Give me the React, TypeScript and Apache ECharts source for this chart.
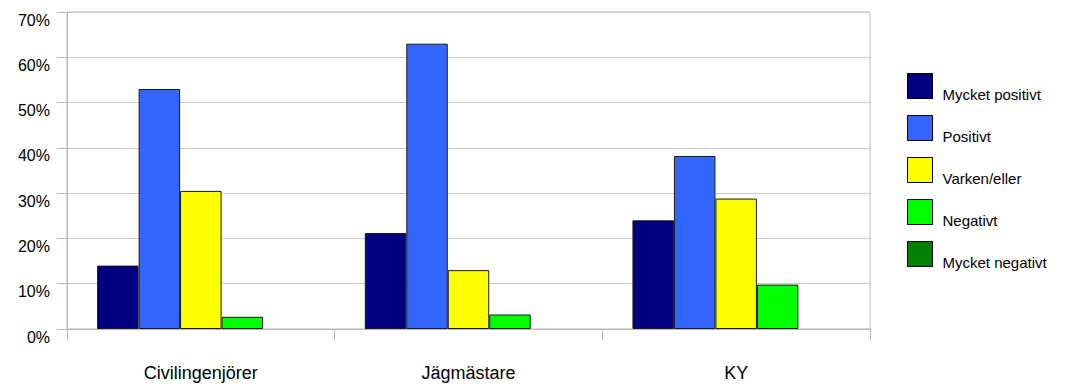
import React, { useEffect, useRef } from "react";
import * as echarts from "echarts";

const categories = ["Civilingenjörer", "Jägmästare", "KY"];
const seriesNames = ["Mycket positivt", "Positivt", "Varken/eller", "Negativt", "Mycket negativt"];
const mycketPositivt = [14, 21.2, 24];
const positivt = [53, 63, 38.2];
const varkenEller = [30.5, 13, 28.8];
const negativt = [2.7, 3.2, 9.8];
const mycketNegativt = [0, 0, 0];
const seriesValues = [mycketPositivt, positivt, varkenEller, negativt, mycketNegativt];
const colors = ["#000080", "#3366ff", "#ffff00", "#00ff00", "#008000"];
const yTicks = { min: 0, max: 70, interval: 10 };

export default function App() {
  const ref = useRef<HTMLDivElement>(null);
  useEffect(() => {
    if (!ref.current) return;
    const chart = echarts.init(ref.current, null, { renderer: "svg" });
    const font = "'Liberation Sans', Arial, sans-serif";
    chart.setOption({
      animation: false,
      backgroundColor: "#ffffff",
      textStyle: { fontFamily: font },
      grid: {
        left: 67,
        right: 218,
        top: 12,
        bottom: 59,
        containLabel: false,
        show: true,
        borderColor: "#b8b8b8",
        borderWidth: 1,
      },
      legend: {
        orient: "vertical",
        left: 907,
        top: 73,
        padding: 0,
        itemWidth: 25,
        itemHeight: 42,
        itemGap: -1,
        icon: "path://M0,0L25,0L25,25L0,25ZM0,42",
        itemStyle: { borderColor: "#000000", borderWidth: 1 },
        textStyle: {
          fontFamily: font,
          fontSize: 15,
          color: "#000000",
          padding: [0, 0, 0, 5],
        },
        data: seriesNames,
      },
      xAxis: {
        type: "category",
        data: categories,
        axisLine: { show: true, lineStyle: { color: "#b8b8b8", width: 1 } },
        axisTick: { show: true, alignWithLabel: false, length: 11, lineStyle: { color: "#b8b8b8" } },
        axisLabel: {
          fontFamily: font,
          fontSize: 18,
          color: "#000000",
          margin: 35,
          verticalAlign: "top",
        },
        splitLine: { show: false },
      },
      yAxis: {
        type: "value",
        min: yTicks.min,
        max: yTicks.max,
        interval: yTicks.interval,
        axisLine: { show: true, lineStyle: { color: "#b8b8b8", width: 1 } },
        axisTick: { show: true, length: 10, lineStyle: { color: "#b8b8b8" } },
        axisLabel: {
          fontFamily: font,
          fontSize: 16,
          color: "#000000",
          margin: 17,
          verticalAlign: "top",
          formatter: "{value}%",
        },
        splitLine: { show: true, lineStyle: { color: "#c8c8c8", width: 1 } },
      },
      series: seriesNames.map((name, i) => ({
        name,
        type: "bar",
        data: seriesValues[i],
        barGap: "0%",
        barCategoryGap: "22.5%",
        itemStyle: {
          color: colors[i],
          borderColor: "#1a1a1a",
          borderWidth: i === 4 ? 0 : 1,
        },
      })),
    });
    return () => chart.dispose();
  }, []);
  return (
    <div
      ref={ref}
      style={{ position: "fixed", left: 0, top: 0, width: 1088, height: 388 }}
    />
  );
}
